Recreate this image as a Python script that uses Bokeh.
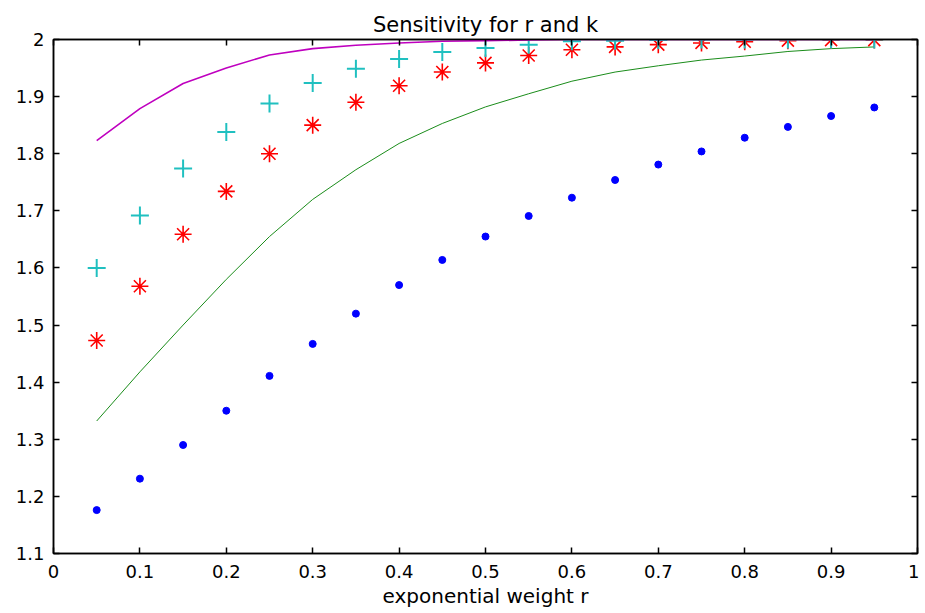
from bokeh.plotting import figure
from bokeh.models import Range1d, FixedTicker, LinearAxis
from bokeh.embed import file_html
from bokeh.resources import INLINE

# ---- data ----
r = [0.05, 0.10, 0.15, 0.20, 0.25, 0.30, 0.35, 0.40, 0.45, 0.50,
     0.55, 0.60, 0.65, 0.70, 0.75, 0.80, 0.85, 0.90, 0.95]
blue_dots = [1.176, 1.231, 1.290, 1.350, 1.411, 1.467, 1.520, 1.570, 1.614, 1.655,
             1.691, 1.723, 1.754, 1.781, 1.804, 1.828, 1.847, 1.866, 1.881]
red_stars = [1.473, 1.568, 1.659, 1.734, 1.800, 1.850, 1.890, 1.919, 1.943, 1.959,
             1.972, 1.982, 1.987, 1.991, 1.994, 1.996, 1.998, 1.999, 1.999]
cyan_plus = [1.600, 1.692, 1.774, 1.838, 1.888, 1.924, 1.949, 1.966, 1.978, 1.985,
             1.991, 1.997, 1.998, 1.999, 2.000, 2.000, 2.000, 2.000, 2.000]
green_line = [1.332, 1.418, 1.500, 1.580, 1.655, 1.720, 1.772, 1.818, 1.853, 1.882,
              1.905, 1.927, 1.943, 1.954, 1.964, 1.971, 1.979, 1.984, 1.987]
magenta_line = [1.823, 1.879, 1.923, 1.950, 1.973, 1.984, 1.990, 1.994, 1.997, 1.998,
                1.999, 2.000, 2.000, 2.000, 2.000, 2.000, 2.000, 2.000, 2.000]

x_ticks = [0, 0.1, 0.2, 0.3, 0.4, 0.5, 0.6, 0.7, 0.8, 0.9, 1]
x_tick_labels = ["0", "0.1", "0.2", "0.3", "0.4", "0.5", "0.6", "0.7", "0.8", "0.9", "1"]
y_ticks = [1.1, 1.2, 1.3, 1.4, 1.5, 1.6, 1.7, 1.8, 1.9, 2]
y_tick_labels = ["1.1", "1.2", "1.3", "1.4", "1.5", "1.6", "1.7", "1.8", "1.9", "2"]

title_text = "Sensitivity for r and k"
x_label = "exponential weight r"

FONT = "DejaVu Sans"

p = figure(frame_width=864, frame_height=514,
           x_range=Range1d(0, 1), y_range=Range1d(1.1, 2),
           output_backend="svg", toolbar_location=None,
           min_border_left=53, min_border_right=2, min_border_top=39,
           min_border_bottom=0, title=title_text)
p.title.align = "center"
p.title.text_font = FONT
p.title.text_font_size = "21px"
p.title.text_font_style = "normal"
p.title.text_color = "black"
p.title.standoff = 5
p.grid.visible = False
p.outline_line_color = "black"
p.outline_line_width = 1.5
p.background_fill_color = "white"
p.border_fill_color = "white"


def style_axis(ax, ticks, labels, show_labels=True):
    ax.ticker = FixedTicker(ticks=ticks)
    ax.major_tick_in = 6
    ax.major_tick_out = 0
    ax.major_tick_line_width = 1.5
    ax.major_tick_line_color = "black"
    ax.minor_tick_line_color = None
    ax.axis_line_width = 1.5
    ax.axis_line_color = "black"
    ax.major_label_text_font = FONT
    if show_labels:
        ax.major_label_overrides = {t: l for t, l in zip(ticks, labels)}
        ax.major_label_text_color = "black"
        ax.major_label_text_font_size = "18px"
    else:
        ax.major_label_text_color = None
        ax.major_label_text_font_size = "0px"
        ax.major_label_standoff = 0


style_axis(p.xaxis[0], x_ticks, x_tick_labels)
p.xaxis[0].major_label_standoff = 11
p.xaxis[0].axis_label = x_label
p.xaxis[0].axis_label_text_font = FONT
p.xaxis[0].axis_label_text_font_size = "20px"
p.xaxis[0].axis_label_text_font_style = "normal"
p.xaxis[0].axis_label_text_color = "black"
p.xaxis[0].axis_label_standoff = 3

style_axis(p.yaxis[0], y_ticks, y_tick_labels)
p.yaxis[0].major_label_standoff = 9

top_ax = LinearAxis()
style_axis(top_ax, x_ticks, x_tick_labels, show_labels=False)
p.add_layout(top_ax, "above")
right_ax = LinearAxis()
style_axis(right_ax, y_ticks, y_tick_labels, show_labels=False)
p.add_layout(right_ax, "right")

# ---- series ----
p.line(r, green_line, line_color="#1a8c1a", line_width=1)
p.scatter(r, blue_dots, marker="circle", size=7, fill_color="blue", line_color="blue")
p.scatter(r, red_stars, marker="asterisk", size=17, line_color="red", line_width=1.6)
p.scatter(r, cyan_plus, marker="cross", size=18, line_color="#20C0C0", line_width=2)
p.line(r, magenta_line, line_color="#BF00BF", line_width=1.6)

open("out.html", "w").write(file_html(p, INLINE))
